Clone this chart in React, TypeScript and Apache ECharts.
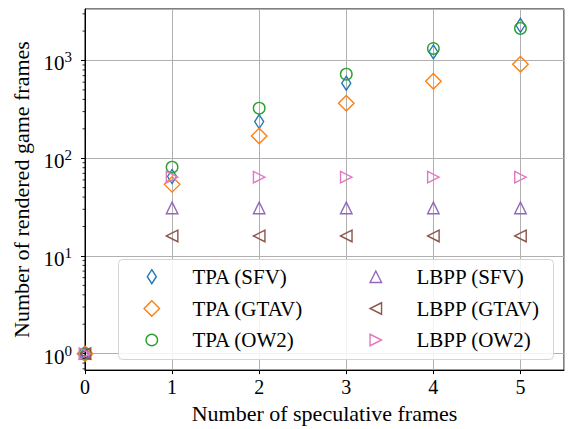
import React, { useEffect, useRef } from "react";
import * as echarts from "echarts";

const xValues = [0, 1, 2, 3, 4, 5];
const tpaSFV = [1, 65, 237, 586, 1225, 2290];
const tpaGTAV = [1, 54, 169, 366, 614, 916];
const tpaOW2 = [1, 81, 325, 725, 1327, 2130];
const lbppSFV = [1, 31, 31, 31, 31, 31];
const lbppGTAV = [1, 16, 16, 16, 16, 16];
const lbppOW2 = [1, 64, 64, 64, 64, 64];

const xTickLabels = ["0", "1", "2", "3", "4", "5"];
const yMinorTicks = [
  0.7, 0.8, 0.9, 2, 3, 4, 5, 6, 7, 8, 9, 20, 30, 40, 50, 60, 70, 80, 90,
  200, 300, 400, 500, 600, 700, 800, 900, 2000, 3000,
];

const FONT = "Liberation Serif";
const C = {
  blue: "#1f77b4",
  orange: "#ff7f0e",
  green: "#2ca02c",
  purple: "#9467bd",
  brown: "#8c564b",
  pink: "#e377c2",
};

type SeriesDef = {
  name: string;
  values: number[];
  color: string;
  symbol: string;
  legendIcon: string;
  size: [number, number];
  rotate: number;
  legend: { cx: number; cy: number; tx: number };
};

const seriesDefs: SeriesDef[] = [
  { name: "TPA (SFV)", values: tpaSFV, color: C.blue, symbol: "diamond", legendIcon: "diamond", size: [9, 14], rotate: 0, legend: { cx: 149.3, cy: 276.7, tx: 190 } },
  { name: "TPA (GTAV)", values: tpaGTAV, color: C.orange, symbol: "diamond", legendIcon: "diamond", size: [15.5, 15.5], rotate: 0, legend: { cx: 149.3, cy: 308.5, tx: 190 } },
  { name: "TPA (OW2)", values: tpaOW2, color: C.green, symbol: "circle", legendIcon: "circle", size: [11.5, 11.5], rotate: 0, legend: { cx: 149.3, cy: 340, tx: 190 } },
  { name: "LBPP (SFV)", values: lbppSFV, color: C.purple, symbol: "triangle", legendIcon: "triangle", size: [11.5, 11.5], rotate: 0, legend: { cx: 373.3, cy: 276.7, tx: 414 } },
  { name: "LBPP (GTAV)", values: lbppGTAV, color: C.brown, symbol: "triangle", legendIcon: "path://M10,0 L10,10 L0,5 Z", size: [11.5, 11.5], rotate: 90, legend: { cx: 373.3, cy: 308.5, tx: 414 } },
  { name: "LBPP (OW2)", values: lbppOW2, color: C.pink, symbol: "triangle", legendIcon: "path://M0,0 L0,10 L10,5 Z", size: [11.5, 11.5], rotate: -90, legend: { cx: 373.3, cy: 340, tx: 414 } },
];

export default function App() {
  const ref = useRef<HTMLDivElement>(null);

  useEffect(() => {
    if (!ref.current) return;
    const chart = echarts.init(ref.current, null, { renderer: "svg" });

    const scatterSeries = seriesDefs.map((d) => ({
      type: "scatter",
      name: d.name,
      data: xValues.map((x, i) => [x, d.values[i]]),
      symbol: d.symbol,
      symbolSize: d.size,
      symbolRotate: d.rotate,
      itemStyle: { color: "none", borderColor: d.color, borderWidth: 1.4, opacity: 1 },
      emphasis: { disabled: true },
      z: 3,
    }));

    const LH = 24;
    const legends = seriesDefs.map((d) => {
      const w = d.size[0];
      const h = d.size[1];
      const left = d.legend.cx - w / 2;
      const iconStyle = { color: "none", borderColor: d.color, borderWidth: 1.4, opacity: 1 };
      return {
        data: [{ name: d.name, icon: d.legendIcon, itemStyle: iconStyle }],
        orient: "vertical",
        left,
        top: d.legend.cy - LH / 2,
        itemWidth: w,
        itemHeight: h,
        padding: 0,
        itemGap: 0,
        symbolKeepAspect: false,
        selectedMode: false,
        z: 10,
        itemStyle: iconStyle,
        textStyle: {
          fontFamily: FONT,
          fontSize: 21,
          color: "#000",
          lineHeight: LH,
          padding: [0, 0, 0, d.legend.tx - left - w - 5],
        },
      };
    });

    const option = {
      animation: false,
      backgroundColor: "#fff",
      textStyle: { fontFamily: FONT },
      grid: {
        left: 85,
        right: 4,
        top: 9,
        bottom: 58,
        show: true,
        borderColor: "#000",
        borderWidth: 1,
        containLabel: false,
      },
      legend: legends,
      graphic: [
        {
          type: "rect",
          left: 118,
          top: 259,
          shape: { width: 435, height: 100, r: 4 },
          style: { fill: "rgba(255,255,255,0.85)", stroke: "#d4d4d4", lineWidth: 1 },
          z: 5,
        },
      ],
      xAxis: {
        type: "value",
        min: 0,
        max: 5.5,
        interval: 1,
        name: "Number of speculative frames",
        nameLocation: "middle",
        nameGap: 25,
        nameTextStyle: { fontFamily: FONT, fontSize: 22, color: "#000" },
        axisLine: { show: true, lineStyle: { color: "#000", width: 1 } },
        axisTick: { show: true, length: 4, lineStyle: { color: "#000", width: 1 } },
        axisLabel: {
          fontFamily: FONT,
          fontSize: 20,
          color: "#000",
          margin: 7,
          showMaxLabel: false,
          formatter: (v: number) => {
            const i = xValues.indexOf(v);
            return i >= 0 ? xTickLabels[i] : "";
          },
        },
        splitLine: { show: true, lineStyle: { color: "#b0b0b0", width: 1 } },
      },
      yAxis: {
        type: "log",
        logBase: 10,
        min: 0.679,
        max: 3365,
        name: "Number of rendered game frames",
        nameLocation: "middle",
        nameGap: 47,
        nameTextStyle: { fontFamily: FONT, fontSize: 22, color: "#000" },
        axisLine: { show: true, lineStyle: { color: "#000", width: 1 } },
        axisTick: { show: true, length: 4, lineStyle: { color: "#000", width: 1 } },
        minorTick: { show: false },
        axisLabel: {
          showMinLabel: false,
          showMaxLabel: false,
          margin: 13,
          fontFamily: FONT,
          formatter: (v: number) => {
            const e = Math.round(Math.log10(v));
            return `{b|10}{s|${e}}`;
          },
          rich: {
            b: { fontFamily: FONT, fontSize: 21, color: "#000", lineHeight: 21, padding: [6, 0, 0, 0] },
            s: { fontFamily: FONT, fontSize: 15, color: "#000", lineHeight: 15, verticalAlign: "top" },
          },
        },
        splitLine: { show: true, lineStyle: { color: "#b0b0b0", width: 1 } },
      },
      series: [
        ...scatterSeries,
        {
          type: "custom",
          name: "minorTicks",
          silent: true,
          clip: false,
          data: yMinorTicks.map((v) => [0, v]),
          renderItem: (params: any, api: any) => {
            const p = api.coord([0, api.value(1)]);
            return {
              type: "line",
              shape: { x1: p[0] - 2.5, y1: p[1], x2: p[0], y2: p[1] },
              style: { stroke: "#000", lineWidth: 0.8 },
            };
          },
          z: 4,
        },
      ],
    };

    chart.setOption(option as any);
    return () => chart.dispose();
  }, []);

  return (
    <div
      ref={ref}
      style={{ position: "fixed", left: 0, top: 0, width: 568, height: 429 }}
    />
  );
}
